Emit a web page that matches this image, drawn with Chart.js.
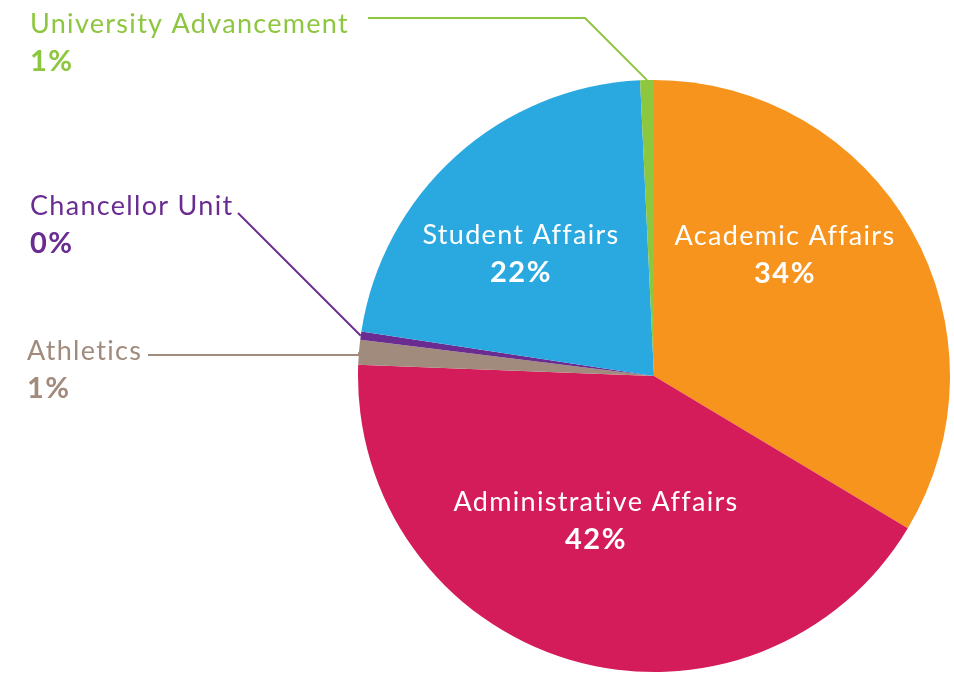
<!DOCTYPE html>
<html>
<head>
<meta charset="utf-8">
<script src="https://cdn.jsdelivr.net/npm/chart.js@4"></script>
<style>
  html, body { margin: 0; padding: 0; background: #fff; }
  #wrap { width: 954px; height: 673px; position: relative; }
</style>
</head>
<body>
<div id="wrap"><canvas id="budgetPie"></canvas></div>
<script>
// slices, clockwise from 12 o'clock
var units = ["Academic Affairs", "Administrative Affairs", "Athletics", "Chancellor Unit", "Student Affairs", "University Advancement"];
var shares = [33.6, 42.0, 1.35, 0.45, 21.85, 0.75];
var shownPct = ["34%", "42%", "1%", "0%", "22%", "1%"];
var sliceColors = ["#F7941D", "#D41C5B", "#A08B7C", "#6B2C91", "#29A9E0", "#8DC63F"];

var FONT = "Lato, 'Open Sans', sans-serif";

// where each label goes; inside labels are centred, outside ones left aligned with a leader line
var labelSpots = [
  { x: 785, y: 245, inside: true },
  { x: 596, y: 511, inside: true },
  { x: 27, y: 360, line: [[148, 355], [null, 355]] },
  { x: 30, y: 215, line: [[238, 213]] },
  { x: 521, y: 244, inside: true },
  { x: 30, y: 33, line: [[368, 18], [585, 18]] }
];

var sliceLabels = {
  id: 'sliceLabels',
  afterDatasetsDraw: function(chart) {
    var ctx = chart.ctx;
    var arcs = chart.getDatasetMeta(0).data;
    ctx.save();
    arcs.forEach(function(arc, i) {
      var spot = labelSpots[i];
      var color = spot.inside ? '#ffffff' : sliceColors[i];
      if (spot.line) {
        var mid = (arc.startAngle + arc.endAngle) / 2;
        var ex = arc.x + arc.outerRadius * Math.cos(mid);
        var ey = arc.y + arc.outerRadius * Math.sin(mid);
        ctx.strokeStyle = color;
        ctx.lineWidth = 2;
        ctx.beginPath();
        spot.line.forEach(function(p, k) {
          var px = p[0] === null ? ex : p[0];
          if (k === 0) ctx.moveTo(px, p[1]); else ctx.lineTo(px, p[1]);
        });
        ctx.lineTo(ex, ey);
        ctx.stroke();
      }
      ctx.fillStyle = color;
      ctx.textAlign = spot.inside ? 'center' : 'left';
      ctx.textBaseline = 'alphabetic';
      ctx.letterSpacing = '1.3px';
      ctx.font = '400 27px ' + FONT;
      ctx.fillText(units[i], spot.x, spot.y);
      ctx.letterSpacing = '1.5px';
      ctx.font = '700 29px ' + FONT;
      ctx.fillText(shownPct[i], spot.x, spot.y + 38);
    });
    ctx.restore();
  }
};

new Chart(document.getElementById('budgetPie'), {
  type: 'pie',
  data: {
    labels: units,
    datasets: [{
      data: shares,
      backgroundColor: sliceColors,
      borderWidth: 0
    }]
  },
  options: {
    responsive: true,
    maintainAspectRatio: false,
    animation: false,
    layout: { padding: { left: 358, right: 4, top: 80, bottom: 1 } },
    plugins: {
      legend: { display: false },
      tooltip: { enabled: false }
    }
  },
  plugins: [sliceLabels]
});
</script>
</body>
</html>
